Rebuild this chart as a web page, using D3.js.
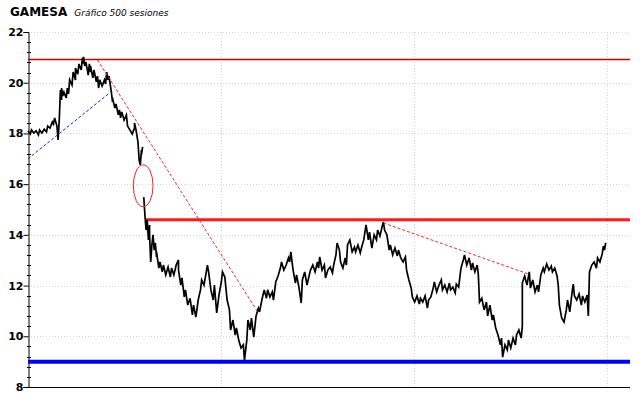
<!DOCTYPE html>
<html>
<head>
<meta charset="utf-8">
<script src="https://cdn.jsdelivr.net/npm/d3@7"></script>
<style>
  body { margin: 0; background: #fff; }
  svg { display: block; }
</style>
</head>
<body>
<div id="chart"></div>
<script>
// sesiones (indice) y cierres; null = hueco de cotizacion
const sesiones = [0,2,3,5,7,9,10,12,14,16,17,19,21,22,23,25,26,27,28,29,29,30,31,33,34,35,36,38,39,41,41,43,44,46,47,47,48,49,50,52,53,54,54,56,57,59,60,61,62,64,66,67,68,69,70,72,73,73,75,76,78,79,80,81,83,85,86,88,90,92,92,93,94,95,96,97,98,98,99,
  100,
  100,101,102,103,104,105,105,106,107,108,109,110,111,111,113,114,116,117,119,121,123,124,126,128,130,130,132,133,135,136,138,140,142,143,145,147,149,150,152,154,155,156,158,160,161,163,165,167,168,170,172,174,175,177,179,180,182,184,186,187,189,190,192,193,195,197,199,200,202,204,206,207,209,211,212,214,216,218,219,221,223,225,226,227,229,231,232,234,236,237,239,241,243,244,246,248,250,251,252,254,256,257,259,261,263,264,266,267,269,270,272,274,275,276,278,280,282,283,285,287,288,290,292,294,295,297,299,301,302,304,306,307,308,310,312,313,315,317,319,320,322,324,326,327,329,331,332,334,336,338,339,341,343,345,346,348,350,351,353,355,357,358,360,362,364,365,367,369,370,372,374,376,377,379,381,383,384,386,388,389,390,392,394,396,397,399,401,402,404,406,408,409,410,412,414,415,417,419,421,422,424,426,427,427,429,431,433,434,436,438,440,441,443,445,446,448,450,452,453,455,457,458,459,461,463,465,466,468,470,471,472,474,476,478,479,481,483,484,485,487,489,491,492,494,496,497,498,499];
const cierres = [18.10,17.98,18.14,18.02,18.10,17.94,18.14,18.02,18.17,18.06,18.29,18.21,18.45,18.37,18.61,18.29,17.74,18.53,19.71,19.32,19.79,19.48,19.63,19.40,19.79,19.56,20.11,19.91,20.42,20.11,20.58,20.34,20.74,20.50,20.98,20.74,21.02,20.66,20.82,20.30,20.74,20.42,20.66,20.19,20.50,20.03,20.26,19.79,20.11,19.87,20.11,19.95,20.42,20.11,20.26,19.63,19.24,19.40,19.00,19.16,18.73,18.93,18.61,18.85,18.53,18.73,18.29,18.14,17.98,18.21,18.41,18.21,17.94,17.66,16.95,16.76,17.35,17.15,17.47,
  null,
  15.49,14.78,14.19,14.59,13.80,14.39,14.00,12.93,13.60,14.00,13.40,13.68,13.13,13.33,12.69,12.93,12.54,12.81,12.42,12.73,12.34,12.69,12.42,12.81,13.01,12.61,12.02,12.30,11.55,11.83,11.23,11.50,10.84,11.23,10.76,11.43,11.83,12.22,12.02,12.54,12.81,12.54,11.83,11.43,12.02,10.92,11.63,12.14,12.54,12.34,11.43,11.04,10.25,10.64,10.05,10.33,9.85,9.54,9.66,9.06,9.85,10.64,10.25,10.72,9.97,10.80,11.11,10.96,11.43,11.83,11.50,11.83,11.55,11.75,11.43,12.14,12.38,12.69,12.93,12.61,12.81,13.09,12.93,13.33,12.61,12.10,12.42,11.94,11.31,12.22,12.54,12.02,12.42,12.61,12.81,12.54,12.93,12.69,13.13,12.61,12.81,12.30,12.61,12.73,12.50,12.81,13.21,13.68,13.40,12.93,12.69,13.09,12.81,13.60,13.80,13.33,13.52,13.33,13.60,13.29,13.48,13.80,14.39,13.80,14.11,13.48,14.00,13.80,14.19,13.95,14.35,14.51,14.19,14.00,13.40,13.60,13.21,13.48,13.17,13.40,13.09,12.93,13.13,12.61,12.22,11.90,11.55,11.35,11.59,11.27,11.50,11.35,11.59,11.11,11.43,11.55,11.90,12.14,11.75,12.02,12.22,11.83,12.02,11.75,12.10,11.83,11.94,11.71,12.06,11.94,12.69,13.01,13.21,12.81,13.09,12.61,12.89,12.54,12.81,12.42,11.35,11.50,11.04,11.35,10.80,11.23,10.64,10.84,10.33,10.05,9.66,9.93,9.18,9.66,9.46,9.85,9.54,9.93,9.66,10.05,10.25,9.93,10.40,12.10,12.38,12.02,12.54,11.90,12.22,11.75,12.02,11.75,12.42,12.69,12.54,12.85,12.61,12.77,12.54,12.69,12.38,12.02,11.23,10.72,10.56,11.04,11.43,10.96,11.75,12.06,11.59,11.43,11.67,11.23,11.59,11.35,11.63,10.80,12.54,12.81,12.93,12.69,13.09,12.93,13.25,13.56,13.40,13.68];

const tituloValor = "GAMESA";
const subtitulo = "Gráfico 500 sesiones";
const totalSesiones = 520;
const valoresEje = [8, 22];
const etiquetasY = [8, 10, 12, 14, 16, 18, 20, 22];
const divisionesSesion = [167, 333, 500];

// niveles y lineas de tendencia dibujadas sobre el grafico
const maximoHistorico = 20.95;
const resistencia = 14.6;
const resistenciaDesde = 102;
const soporte = 9.0;
const tendenciaAlcista = [[0, 17.0], [70, 19.58]];
const tendenciaBajista = [[60, 20.90], [199, 10.92]];
const tendenciaBajista2 = [[307, 14.47], [432, 12.46]];
const huecoSesiones = [91, 108];
const huecoValores = [15.11, 16.76];

const width = 640, height = 398;
const margen = { izq: 28, der: 630, sup: 32, inf: 387 };

const svg = d3.select('#chart').append('svg')
  .attr('width', width)
  .attr('height', height);

const x = d3.scaleLinear().domain([0, totalSesiones]).range([margen.izq, margen.der]);
const y = d3.scaleLinear().domain(valoresEje).range([margen.inf, margen.sup]);

// rejilla
svg.append('g')
  .selectAll('line')
  .data(etiquetasY.filter(v => v > valoresEje[0]))
  .enter().append('line')
  .attr('x1', margen.izq).attr('x2', margen.der)
  .attr('y1', d => Math.round(y(d)) + 0.5).attr('y2', d => Math.round(y(d)) + 0.5)
  .style('stroke', '#d6d6d6')
  .style('stroke-dasharray', '1,2');

svg.append('g')
  .selectAll('line')
  .data(divisionesSesion)
  .enter().append('line')
  .attr('x1', d => Math.round(x(d)) + 0.5).attr('x2', d => Math.round(x(d)) + 0.5)
  .attr('y1', margen.sup).attr('y2', margen.inf)
  .style('stroke', '#d6d6d6')
  .style('stroke-dasharray', '1,2');

// eje y
const yAxis = d3.axisLeft(y)
  .tickValues(etiquetasY)
  .tickSize(5)
  .tickFormat(d3.format('d'));

const gy = svg.append('g')
  .attr('transform', 'translate(' + (margen.izq + 0.5) + ',0)')
  .call(yAxis);
gy.select('.domain').style('stroke', '#000');
gy.selectAll('.tick line').style('stroke', '#000');
gy.selectAll('.tick text')
  .attr('x', -5)
  .style('font-family', '"DejaVu Sans", Verdana, sans-serif')
  .style('font-weight', 'bold')
  .style('font-size', '11px')
  .style('fill', '#000');

const menores = d3.range(valoresEje[0], valoresEje[1] + 0.001, 0.4)
  .filter(v => Math.abs(v / 2 - Math.round(v / 2)) > 0.01);
svg.append('g')
  .selectAll('line')
  .data(menores)
  .enter().append('line')
  .attr('x1', margen.izq - 1).attr('x2', margen.izq + 3)
  .attr('y1', d => Math.round(y(d)) + 0.5).attr('y2', d => Math.round(y(d)) + 0.5)
  .style('stroke', '#000');

// eje x (sin etiquetas)
svg.append('line')
  .attr('x1', margen.izq).attr('x2', margen.der)
  .attr('y1', margen.inf + 0.5).attr('y2', margen.inf + 0.5)
  .style('stroke', '#000')
  .style('stroke-width', 1.2);

// niveles horizontales
svg.append('line')
  .attr('x1', x(0)).attr('x2', margen.der)
  .attr('y1', Math.round(y(maximoHistorico)) + 0.5).attr('y2', Math.round(y(maximoHistorico)) + 0.5)
  .style('stroke', '#cc0000')
  .style('stroke-width', 1.3);

svg.append('line')
  .attr('x1', x(resistenciaDesde)).attr('x2', margen.der)
  .attr('y1', y(resistencia)).attr('y2', y(resistencia))
  .style('stroke', '#ff1a1a')
  .style('stroke-width', 3);

svg.append('line')
  .attr('x1', x(0)).attr('x2', margen.der)
  .attr('y1', y(soporte)).attr('y2', y(soporte))
  .style('stroke', '#0000ff')
  .style('stroke-width', 4);

// cotizacion
const datos = sesiones.map((s, i) => ({ s: s, v: cierres[i] }));
const linea = d3.line()
  .defined(d => d.v !== null)
  .x(d => x(d.s))
  .y(d => y(d.v));

svg.append('path')
  .datum(datos)
  .attr('d', linea)
  .style('fill', 'none')
  .style('stroke', '#000')
  .style('stroke-width', 1.7)
  .style('stroke-linejoin', 'miter');

// lineas de tendencia
const recta = d3.line().x(d => x(d[0])).y(d => y(d[1]));

svg.append('path')
  .attr('d', recta(tendenciaAlcista))
  .style('stroke', '#1a1aff')
  .style('stroke-width', 1)
  .style('stroke-dasharray', '3,2')
  .style('fill', 'none');

[tendenciaBajista, tendenciaBajista2].forEach(t => {
  svg.append('path')
    .attr('d', recta(t))
    .style('stroke', '#ff2020')
    .style('stroke-width', 1)
    .style('stroke-dasharray', '3,2')
    .style('fill', 'none');
});

// hueco marcado con elipse
svg.append('ellipse')
  .attr('cx', (x(huecoSesiones[0]) + x(huecoSesiones[1])) / 2)
  .attr('cy', (y(huecoValores[0]) + y(huecoValores[1])) / 2)
  .attr('rx', (x(huecoSesiones[1]) - x(huecoSesiones[0])) / 2)
  .attr('ry', (y(huecoValores[0]) - y(huecoValores[1])) / 2)
  .style('fill', 'none')
  .style('stroke', '#ff2020')
  .style('stroke-width', 1);

// titulo
const titulo = svg.append('text')
  .attr('x', 10)
  .attr('y', 16)
  .style('font-family', '"DejaVu Sans", Verdana, sans-serif');
titulo.append('tspan')
  .style('font-weight', 'bold')
  .style('font-size', '12px')
  .text(tituloValor);
titulo.append('tspan')
  .attr('dx', 7)
  .style('font-style', 'italic')
  .style('font-size', '9px')
  .text(subtitulo);
</script>
</body>
</html>
